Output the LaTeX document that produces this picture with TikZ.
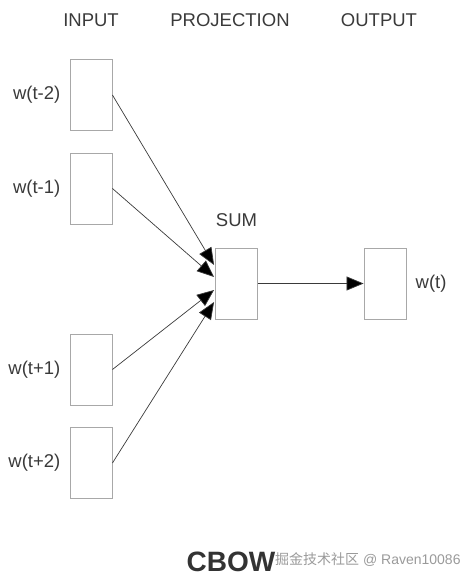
\documentclass[tikz,border=0pt]{standalone}
\usepackage{fontspec}
\setmainfont{Liberation Sans}
\newfontfamily\cjk{Noto Sans CJK SC}
\usetikzlibrary{positioning,arrows.meta}
\definecolor{rand}{HTML}{A8A8A8}
\definecolor{linie}{HTML}{3A3A3A}
\definecolor{dunkel}{HTML}{333333}
\definecolor{wasser}{HTML}{9A9A9A}

\begin{document}
\begin{tikzpicture}[x=1pt,y=-1pt,
      node distance=9pt,
      zelle/.style={draw=rand,line width=0.9pt,minimum width=42pt,
                    minimum height=71pt,inner sep=0pt},
      txt/.style={font=\fontsize{18.5}{20}\selectfont,text=linie,inner sep=0pt},
      pf/.style={-{Triangle[length=17pt,width=14pt,fill=black]},draw=linie,line width=0.7pt}]
    \useasboundingbox (0,0) rectangle (474,583);
    % column heads
    \node[txt] (hin) at (91,20) {INPUT};
    \node[txt] (hproj) at (230,20) {PROJECTION};
    \node[txt] (hout) at (379,20) {OUTPUT};
    % input words
    \node[zelle] (in1) at (91,95) {};
    \node[zelle] (in2) at (91,188.5) {};
    \node[zelle] (in3) at (91,369.5) {};
    \node[zelle] (in4) at (91,463) {};
    \node[txt,left=of in1] (w1) {w(t-2)};
    \node[txt,left=of in2] (w2) {w(t-1)};
    \node[txt,left=of in3] (w3) {w(t+1)};
    \node[txt,left=of in4] (w4) {w(t+2)};
    % projection and output
    \node[zelle] (sum) at (236.5,283.5) {};
    \node[txt] (lsum) at (236.5,220) {SUM};
    \node[zelle] (out) at (385,283.5) {};
    \node[txt,right=9pt of out] (wt) {w(t)};
    \foreach \a/\s in {in1/18.5,in2/6.5,in3/-6.5,in4/-18.5}
      \draw[pf] (\a.east) -- ([yshift=\s pt,xshift=-1pt]sum.west);
    \draw[pf] (sum.east) -- (out.west);
    % caption
    \node[font=\fontsize{28}{30}\selectfont\bfseries,text=dunkel,inner sep=0pt] (titel) at (231,562) {CBOW};
    \node[font=\fontsize{14}{16}\selectfont,text=wasser,inner sep=0pt,anchor=west] (marke) at (275,560) {{\cjk 掘金技术社区} @ Raven10086};
\end{tikzpicture}
\end{document}
